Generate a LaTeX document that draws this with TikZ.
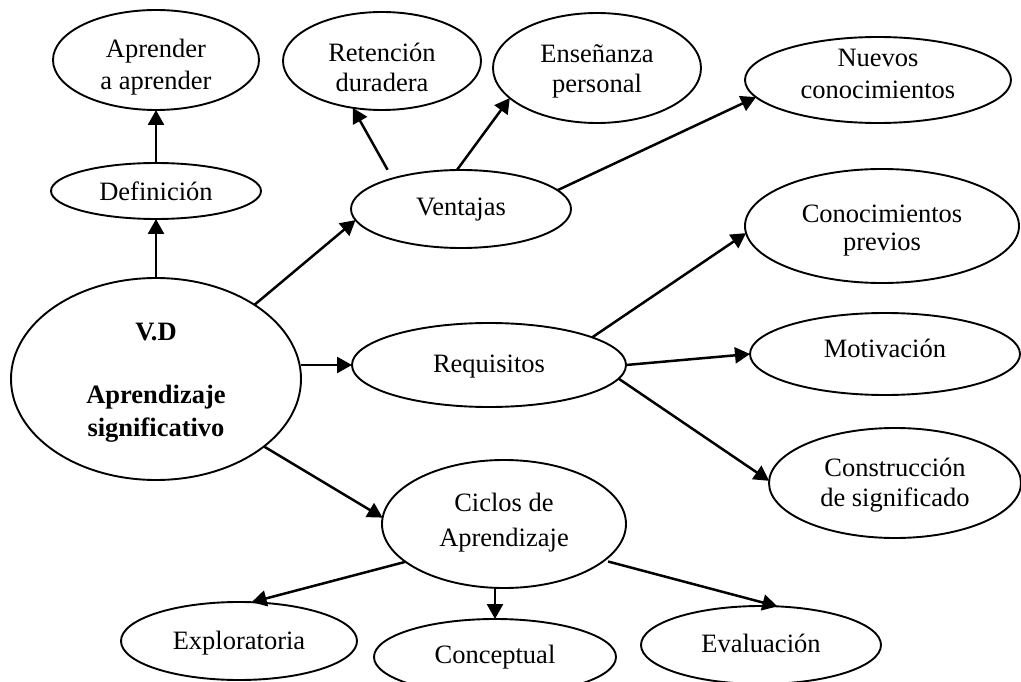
\documentclass[tikz,border=0pt]{standalone}
\usepackage{fontspec}
\setmainfont{Liberation Serif}
\usetikzlibrary{shapes.geometric,arrows.meta}
\begin{document}
\begin{tikzpicture}[x=1pt,y=-1pt,
  oval/.style={ellipse, draw=black, line width=1.9pt, inner sep=0pt, outer sep=0pt},
  txt/.style={inner sep=0pt, align=center, font=\fontsize{26.5}{30}\selectfont},
  link/.style={line width=2.5pt, -{Triangle[length=15pt,width=16pt]}},
]
\fill[white] (0,0) rectangle (1021,682);
\useasboundingbox (0,0) rectangle (1021,682);

% central concept
\node[oval, minimum width=290pt, minimum height=202pt] (vd) at (156,379) {};
\node[txt, font=\fontsize{26.5}{33}\selectfont\bfseries] (vdT) at (156,383)
      {V.D\\[30pt]Aprendizaje\\significativo};

% definition branch
\node[oval, minimum width=210pt, minimum height=56pt] (def) at (156,191) {};
\node[txt] (defT) at (156,191) {Definición};
\node[oval, minimum width=206pt, minimum height=100pt] (apr) at (156,60) {};
\node[txt, font=\fontsize{26.5}{32}\selectfont] (aprT) at (156,67) {Aprender\\a aprender};

% advantages branch
\node[oval, minimum width=220pt, minimum height=78pt] (vent) at (461,209) {};
\node[txt] (ventT) at (461,210) {Ventajas};
\node[oval, minimum width=198pt, minimum height=98pt] (ret) at (382,61) {};
\node[txt] (retT) at (382,67) {Retención\\duradera};
\node[oval, minimum width=208pt, minimum height=110pt] (ens) at (597,68) {};
\node[txt] (ensT) at (597,71) {Enseñanza\\personal};
\node[oval, minimum width=266pt, minimum height=86pt] (nue) at (878,80) {};
\node[txt, font=\fontsize{26.5}{32}\selectfont] (nueT) at (878,74) {Nuevos\\conocimientos};

% requirements branch
\node[oval, minimum width=274pt, minimum height=84pt] (req) at (489,365) {};
\node[txt] (reqT) at (489,367) {Requisitos};
\node[oval, minimum width=274pt, minimum height=114pt] (cp) at (882,226) {};
\node[txt, font=\fontsize{26.5}{28}\selectfont] (cpT) at (882,231) {Conocimientos\\previos};
\node[oval, minimum width=270pt, minimum height=82pt] (mot) at (885,354) {};
\node[txt] (motT) at (885,348) {Motivación};
\node[oval, minimum width=252pt, minimum height=110pt] (con) at (895,483) {};
\node[txt] (conT) at (895,485) {Construcción\\de significado};

% learning cycles branch
\node[oval, minimum width=244pt, minimum height=128pt] (cic) at (504,524) {};
\node[txt, font=\fontsize{26.5}{35}\selectfont] (cicT) at (504,523) {Ciclos de\\Aprendizaje};
\node[oval, minimum width=236pt, minimum height=78pt] (exp) at (239,641) {};
\node[txt] (expT) at (239,643) {Exploratoria};
\node[oval, minimum width=242pt, minimum height=76pt] (conc) at (495,657) {};
\node[txt] (concT) at (495,657) {Conceptual};
\node[oval, minimum width=240pt, minimum height=78pt] (eva) at (761,645) {};
\node[txt] (evaT) at (761,643) {Evaluación};

% connectors
\draw[link] (vd.north) -- (def.south);
\draw[link] (def.north) -- (apr.south);
\draw[link] (vd.37) -- (vent.186);
\draw[link] (vd.east |- req.west) -- (req.west);
\draw[link] (vd.-32) -- (cic.177);

\draw[link, shorten <=10pt] (vent.156) -- (ret.238);
\draw[link] (vent.96) -- (ens.199);
\draw[link] (vent.11) -- (nue.188);

\draw[link] (req.15) -- (cp.183);
\draw[link] (req.east) -- (mot.west);
\draw[link] (req.-6) -- (con.179);

\draw[link] (cic.201) -- (exp.72);
\draw[link] (cic.south -| conc.north) -- (conc.north);
\draw[link, shorten <=4pt] (cic.-20) -- (eva.67);
\end{tikzpicture}
\end{document}
